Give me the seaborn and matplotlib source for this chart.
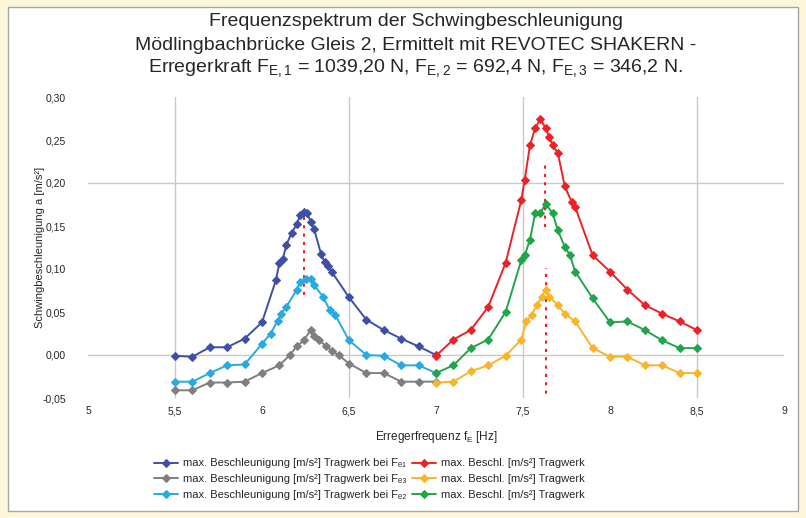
import numpy as np
import pandas as pd
import matplotlib
matplotlib.use('Agg')
import matplotlib.pyplot as plt
from matplotlib.patches import Rectangle
from matplotlib.ticker import FixedLocator, FuncFormatter
import seaborn as sns

sns.set_theme(style='white')
plt.rcParams['font.family'] = ['Liberation Sans', 'DejaVu Sans']
plt.rcParams['mathtext.fontset'] = 'custom'
plt.rcParams['mathtext.rm'] = 'Liberation Sans'
plt.rcParams['mathtext.it'] = 'Liberation Sans'

# --- data ---
# left group (first resonance)
freq_db = [5.5, 5.6, 5.7, 5.8, 5.9, 6.0, 6.08, 6.1, 6.12, 6.14, 6.17, 6.2, 6.22, 6.24, 6.26,
           6.28, 6.3, 6.34, 6.36, 6.38, 6.4, 6.5, 6.6, 6.7, 6.8, 6.9, 7.0]
acc_db = [-0.001, -0.002, 0.009, 0.009, 0.019, 0.038, 0.087, 0.107, 0.112, 0.128, 0.142, 0.152,
          0.163, 0.166, 0.165, 0.155, 0.146, 0.117, 0.108, 0.103, 0.097, 0.067, 0.041, 0.029,
          0.019, 0.010, 0.000]

freq_gr = [5.5, 5.6, 5.7, 5.8, 5.9, 6.0, 6.1, 6.16, 6.2, 6.24, 6.28, 6.3, 6.33, 6.37, 6.4, 6.44,
           6.5, 6.6, 6.7, 6.8, 6.9, 7.0]
acc_gr = [-0.041, -0.041, -0.032, -0.032, -0.031, -0.021, -0.012, 0.000, 0.010, 0.017, 0.029,
          0.022, 0.017, 0.010, 0.005, 0.000, -0.010, -0.021, -0.021, -0.031, -0.031, -0.031]

freq_lb = [5.5, 5.6, 5.7, 5.8, 5.9, 6.0, 6.05, 6.09, 6.11, 6.14, 6.2, 6.22, 6.25, 6.28, 6.3,
           6.35, 6.39, 6.42, 6.5, 6.6, 6.7, 6.8, 6.9, 7.0]
acc_lb = [-0.031, -0.031, -0.021, -0.012, -0.011, 0.013, 0.025, 0.040, 0.048, 0.056, 0.076,
          0.085, 0.088, 0.088, 0.081, 0.068, 0.052, 0.047, 0.017, 0.000, -0.001, -0.012, -0.012,
          -0.021]

# right group (second resonance)
freq_rd = [7.0, 7.1, 7.2, 7.3, 7.4, 7.49, 7.51, 7.54, 7.57, 7.6, 7.63, 7.65, 7.67, 7.7, 7.74,
           7.78, 7.8, 7.9, 8.0, 8.1, 8.2, 8.3, 8.4, 8.5]
acc_rd = [-0.001, 0.018, 0.029, 0.056, 0.107, 0.180, 0.204, 0.244, 0.264, 0.274, 0.264, 0.254,
          0.244, 0.235, 0.196, 0.178, 0.172, 0.116, 0.097, 0.076, 0.058, 0.048, 0.039, 0.029]

freq_ye = [7.0, 7.1, 7.2, 7.3, 7.4, 7.49, 7.52, 7.55, 7.58, 7.61, 7.63, 7.65, 7.7, 7.74, 7.8,
           7.9, 8.0, 8.1, 8.2, 8.3, 8.4, 8.5]
acc_ye = [-0.032, -0.031, -0.019, -0.012, -0.001, 0.018, 0.039, 0.047, 0.058, 0.068, 0.076,
          0.068, 0.058, 0.048, 0.039, 0.008, -0.002, -0.002, -0.012, -0.012, -0.021, -0.021]

freq_gn = [7.0, 7.1, 7.2, 7.3, 7.4, 7.49, 7.51, 7.54, 7.57, 7.6, 7.63, 7.67, 7.7, 7.74, 7.77,
           7.8, 7.9, 8.0, 8.1, 8.2, 8.3, 8.4, 8.5]
acc_gn = [-0.021, -0.012, 0.008, 0.018, 0.050, 0.110, 0.116, 0.134, 0.165, 0.165, 0.176, 0.165,
          0.145, 0.126, 0.116, 0.097, 0.066, 0.038, 0.039, 0.029, 0.017, 0.008, 0.008]

# red dotted peak markers
peak_freq = [6.24, 7.625, 7.635]
peak_low = [0.070, 0.149, -0.055]
peak_high = [0.163, 0.221, 0.101]

labels = [
    'max. Beschleunigung [m/s²] Tragwerk bei F\u2091\u2081',
    'max. Beschleunigung [m/s²] Tragwerk bei F\u2091\u2083',
    'max. Beschleunigung [m/s²] Tragwerk bei F\u2091\u2082',
    'max. Beschl. [m/s²] Tragwerk',
    'max. Beschl. [m/s²] Tragwerk',
    'max. Beschl. [m/s²] Tragwerk',
]
colors = ['#3F4FA6', '#7F7F7F', '#27A9E1', '#EC2227', '#F8B52A', '#22A54A']
series = [(freq_db, acc_db), (freq_gr, acc_gr), (freq_lb, acc_lb),
          (freq_rd, acc_rd), (freq_ye, acc_ye), (freq_gn, acc_gn)]

x_ticks = [5, 5.5, 6, 6.5, 7, 7.5, 8, 8.5, 9]
y_ticks = [-0.05, 0.0, 0.05, 0.10, 0.15, 0.20, 0.25, 0.30]
x_grid = [5.5, 6.5, 7.5, 8.5]
y_grid = [0.0, 0.2]

txt = '#262626'

fig = plt.figure(figsize=(8.06, 5.18), dpi=100, facecolor='#FCF6DA')
fig.patches.append(Rectangle((8 / 806, 7 / 518), 790 / 806, 504 / 518, transform=fig.transFigure,
                             facecolor='white', edgecolor='#A6A6A6', lw=1, zorder=-5))
ax = fig.add_axes([88 / 806, 1 - 398 / 518, (784 - 88) / 806, (398 - 97) / 518])
ax.set_facecolor('none')
ax.set_zorder(2)

# light grid lines
for g in x_grid:
    ax.axvline(g, color='#C9C9C9', lw=1, zorder=0)
for g in y_grid:
    ax.axhline(g, color='#C9C9C9', lw=1, zorder=0)

for (f, a), c, lab in zip(series, colors, labels):
    df = pd.DataFrame({'f': f, 'a': a})
    sns.lineplot(data=df, x='f', y='a', ax=ax, color=c, marker='D', markersize=4.5,
                 markeredgecolor=c, lw=1.4, sort=False, estimator=None, label=lab, legend=False)

ax.vlines(peak_freq, peak_low, peak_high, colors='#EC2227', linestyles=(0, (1.5, 2.5)), lw=1.5,
          zorder=1)

ax.set_xlim(5, 9)
ax.set_ylim(-0.05, 0.30)
ax.xaxis.set_major_locator(FixedLocator(x_ticks))
ax.yaxis.set_major_locator(FixedLocator(y_ticks))
ax.xaxis.set_major_formatter(FuncFormatter(lambda v, p: ('%g' % v).replace('.', ',')))
ax.yaxis.set_major_formatter(FuncFormatter(lambda v, p: ('%.2f' % v).replace('.', ',')))
ax.grid(False)
ax.tick_params(which='both', length=0)
ax.tick_params(axis='x', labelsize=7.5, pad=6, colors=txt)
ax.tick_params(axis='y', labelsize=7.5, pad=16, colors=txt)
for s in ax.spines.values():
    s.set_visible(False)

ax.set_xlabel('Erregerfrequenz f$_{E}$ [Hz]', fontsize=8.5, color=txt, labelpad=9)
ax.set_ylabel('Schwingbeschleunigung a [m/s²]', fontsize=8, color=txt, labelpad=-2)

title_lines = ['Frequenzspektrum der Schwingbeschleunigung',
               'Mödlingbachbrücke Gleis 2, Ermittelt mit REVOTEC SHAKERN -',
               'Erregerkraft F$_{E,1}$ = 1039,20 N, F$_{E,2}$ = 692,4 N, F$_{E,3}$ = 346,2 N.']
for i, line in enumerate(title_lines):
    fig.text(0.516, 1 - (22 + 23 * i) / 518, line, ha='center', va='center', fontsize=14,
             color=txt)

handles, labs = ax.get_legend_handles_labels()
fig.legend(handles, labs, loc='center', bbox_to_anchor=(0.458, 1 - 479 / 518), ncol=2,
           frameon=False, fontsize=8, handlelength=2.2, columnspacing=0.5,
           labelspacing=0.5, handletextpad=0.4, labelcolor=txt)

fig.savefig('out.png', dpi=100, facecolor=fig.get_facecolor())
